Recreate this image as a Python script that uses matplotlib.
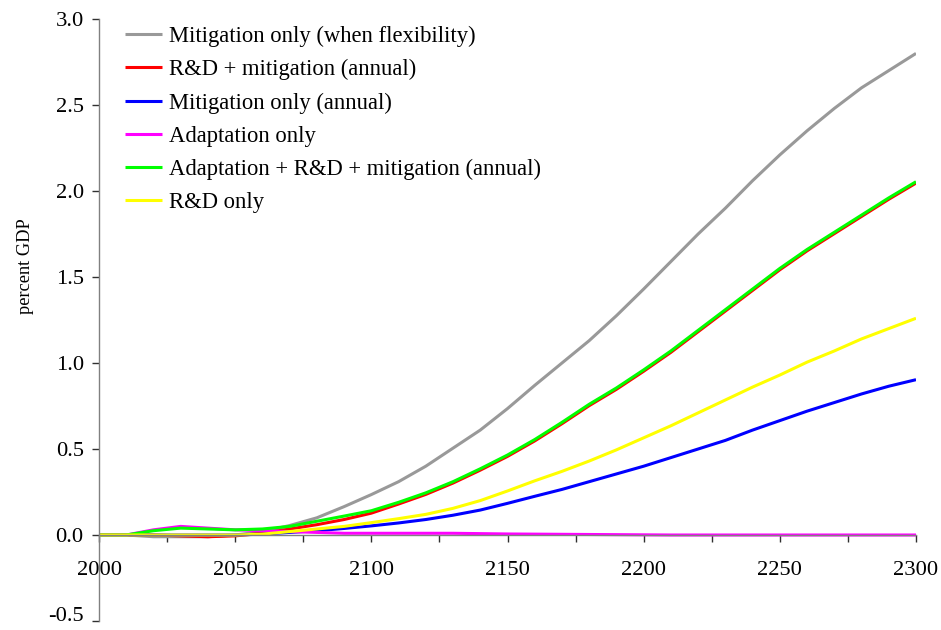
import matplotlib
matplotlib.use("Agg")
import matplotlib.pyplot as plt
from matplotlib.ticker import MultipleLocator, FuncFormatter

years = list(range(2000, 2301, 10))

mitig_flex = [0.0, 0.0, -0.01, -0.01, -0.01, 0.0, 0.02, 0.055, 0.10, 0.165,
              0.235, 0.31, 0.40, 0.505, 0.61, 0.735, 0.87, 1.00, 1.13, 1.275,
              1.43, 1.59, 1.75, 1.90, 2.06, 2.21, 2.35, 2.48, 2.60, 2.70, 2.80]
rd_mitig = [0.0, 0.0, 0.0, -0.005, -0.01, -0.005, 0.01, 0.035, 0.06, 0.09,
            0.127, 0.18, 0.236, 0.302, 0.377, 0.457, 0.547, 0.647, 0.752, 0.847,
            0.952, 1.062, 1.182, 1.302, 1.422, 1.542, 1.652, 1.752, 1.852, 1.952, 2.046]
mitig_annual = [0.0, 0.0, 0.0, 0.0, 0.0, 0.0, 0.005, 0.015, 0.025, 0.038,
                0.053, 0.07, 0.09, 0.115, 0.145, 0.184, 0.225, 0.265, 0.31, 0.355,
                0.40, 0.45, 0.50, 0.55, 0.61, 0.665, 0.72, 0.77, 0.82, 0.865, 0.903]
adapt_only = [0.0, 0.0, 0.03, 0.05, 0.04, 0.03, 0.025, 0.02, 0.015, 0.01,
              0.01, 0.01, 0.01, 0.01, 0.008, 0.006, 0.005, 0.004, 0.003, 0.002,
              0.001, 0.0, 0.0, 0.0, 0.0, 0.0, 0.0, 0.0, 0.0, 0.0, 0.0]
adapt_rd_mitig = [0.0, 0.0, 0.025, 0.04, 0.035, 0.03, 0.035, 0.05, 0.08, 0.11,
                  0.141, 0.19, 0.245, 0.31, 0.385, 0.465, 0.555, 0.655, 0.76, 0.855,
                  0.96, 1.07, 1.19, 1.31, 1.43, 1.55, 1.66, 1.76, 1.86, 1.96, 2.054]
rd_only = [0.0, 0.0, 0.0, 0.0, 0.0, 0.0, 0.005, 0.02, 0.035, 0.05,
           0.072, 0.095, 0.12, 0.155, 0.20, 0.256, 0.315, 0.37, 0.43, 0.495,
           0.565, 0.635, 0.71, 0.785, 0.86, 0.93, 1.005, 1.07, 1.14, 1.20, 1.26]

series = [
    ("Mitigation only (when flexibility)", mitig_flex, "#999999"),
    ("R&D + mitigation (annual)", rd_mitig, "#FF0000"),
    ("Mitigation only (annual)", mitig_annual, "#0000FF"),
    ("Adaptation only", adapt_only, "#FF00FF"),
    ("Adaptation + R&D + mitigation (annual)", adapt_rd_mitig, "#00FF00"),
    ("R&D only", rd_only, "#FFFF00"),
]

plt.rcParams['font.family'] = ['Liberation Serif', 'DejaVu Serif']

fig = plt.figure(figsize=(9.41, 6.30), dpi=100)
ax = fig.add_axes([99/941, 1 - 621/630, 817/941, 602/630])

for label, vals, color in series:
    ax.plot(years, vals, color=color, linewidth=2.2, label=label,
            solid_capstyle='butt', solid_joinstyle='round')

ax.set_xlim(2000, 2300)
ax.set_ylim(-0.5, 3.0)

ax.spines['top'].set_visible(False)
ax.spines['right'].set_visible(False)
ax.spines['bottom'].set_position(('data', 0))
ax.spines['left'].set_color('#808080')
ax.spines['bottom'].set_color('#808080')
ax.spines['left'].set_linewidth(1.0)
ax.spines['bottom'].set_linewidth(1.0)

ax.xaxis.set_major_locator(MultipleLocator(25))
ax.xaxis.set_major_formatter(FuncFormatter(lambda v, p: f"{int(round(v))}" if int(round(v)) % 50 == 0 else ""))
ax.yaxis.set_major_locator(MultipleLocator(0.5))
# lowest label drawn separately, nudged up so it is not clipped at the figure edge
ax.yaxis.set_major_formatter(FuncFormatter(lambda v, p: "" if v < -0.25 else f"{v:.1f}"))

ax.tick_params(axis='x', direction='out', length=5, width=1, color='#303030', labelsize=16.2, pad=14)
ax.tick_params(axis='y', direction='out', length=5, width=1, color='#303030', labelsize=16.2, pad=6)

ymin = ax.get_ylim()[0]
ax.annotate(f"{ymin:.1f}", xy=(0, ymin), xycoords=('axes fraction', 'data'),
            xytext=(-11, 3.5), textcoords='offset points', ha='right', va='center',
            fontsize=16.2, annotation_clip=False)

fig.text(25/941, 1 - 266/630, "percent GDP", rotation=90, ha='center', va='center', fontsize=13.2)

leg = ax.legend(loc='upper left', bbox_to_anchor=(125/941, 1 - 26/630), bbox_transform=fig.transFigure,
                frameon=False, fontsize=16.3, handlelength=1.65, handletextpad=0.3, labelspacing=0.53,
                borderaxespad=0, borderpad=0)

fig.savefig("out.png", dpi=100)
